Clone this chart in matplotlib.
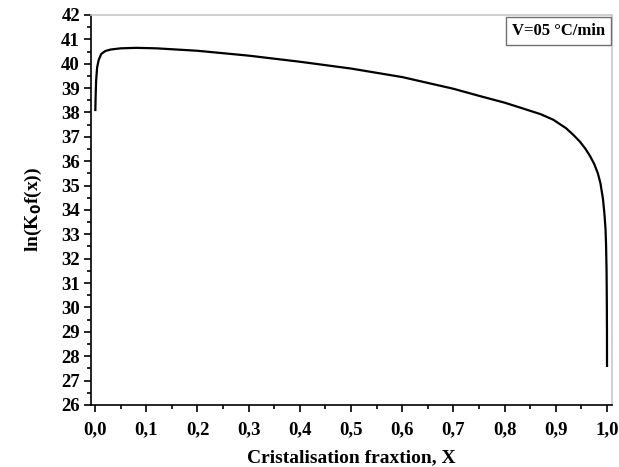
import numpy as np
import matplotlib
matplotlib.use("Agg")
import matplotlib.pyplot as plt
from matplotlib.ticker import MultipleLocator, FuncFormatter

# crystallised fraction and ln(K0 f(x)) for V = 05 °C/min
frac = [0.0005, 0.001, 0.002, 0.004, 0.007, 0.012, 0.02, 0.03, 0.05, 0.08,
        0.12, 0.2, 0.3, 0.4, 0.5, 0.6, 0.7, 0.75, 0.8, 0.83,
        0.87, 0.895, 0.92, 0.934, 0.947, 0.958, 0.967, 0.975, 0.982, 0.987,
        0.992, 0.995, 0.997, 0.998, 0.999, 0.9995, 0.9998, 0.9999]
lnkf = [38.1, 38.6, 39.3, 39.85, 40.15, 40.4, 40.52, 40.58, 40.63, 40.65,
        40.63, 40.53, 40.33, 40.08, 39.8, 39.45, 38.97, 38.68, 38.4, 38.2,
        37.93, 37.7, 37.35, 37.08, 36.8, 36.5, 36.2, 35.88, 35.5, 35.1,
        34.45, 33.8, 33.2, 32.6, 31.5, 30.3, 29.0, 27.6]
rate_label = "V=05 °C/min"

plt.rcParams['font.family'] = ['Liberation Serif', 'DejaVu Serif']
plt.rcParams['font.weight'] = 'bold'

fig = plt.figure(figsize=(6.19, 4.67), dpi=100)
ax = fig.add_axes([0.147, 0.133, 0.842, 0.835])

ax.plot(frac, lnkf, color='black', lw=1.6)

ax.set_xlim(-0.008, 1.01)
ax.set_ylim(26, 42)
ax.xaxis.set_major_locator(MultipleLocator(0.1))
ax.xaxis.set_minor_locator(MultipleLocator(0.05))
ax.yaxis.set_major_locator(MultipleLocator(1))
ax.yaxis.set_minor_locator(MultipleLocator(0.5))
ax.xaxis.set_major_formatter(FuncFormatter(lambda v, p: f"{v:.1f}".replace('.', ',')))

ax.tick_params(which='both', direction='out', top=False, right=False,
               labelsize=13.5, width=1.2)
ax.tick_params(which='major', length=5, pad=3)
ax.tick_params(which='minor', length=3)
ax.tick_params(axis='x', pad=7)
for lab in ax.get_xticklabels() + ax.get_yticklabels():
    lab.set_fontweight('bold')

for side in ['left', 'bottom']:
    ax.spines[side].set_color('black')
    ax.spines[side].set_linewidth(1.2)
for side in ['top', 'right']:
    ax.spines[side].set_color('#c8c8c8')
    ax.spines[side].set_linewidth(1.2)

ax.set_xlabel("Cristalisation fraxtion, X", fontsize=14, fontweight='bold', labelpad=8)
ax.set_ylabel(r"ln(K$_\mathbf{0}$f(x))", fontsize=14, fontweight='bold', labelpad=12)

ax.text(0.986, 0.98, rate_label, transform=ax.transAxes, ha='right', va='top',
        fontsize=12, fontweight='bold',
        bbox=dict(boxstyle='square,pad=0.35', fc='white', ec='#707070', lw=1.0))

fig.savefig("out.png", dpi=100)
